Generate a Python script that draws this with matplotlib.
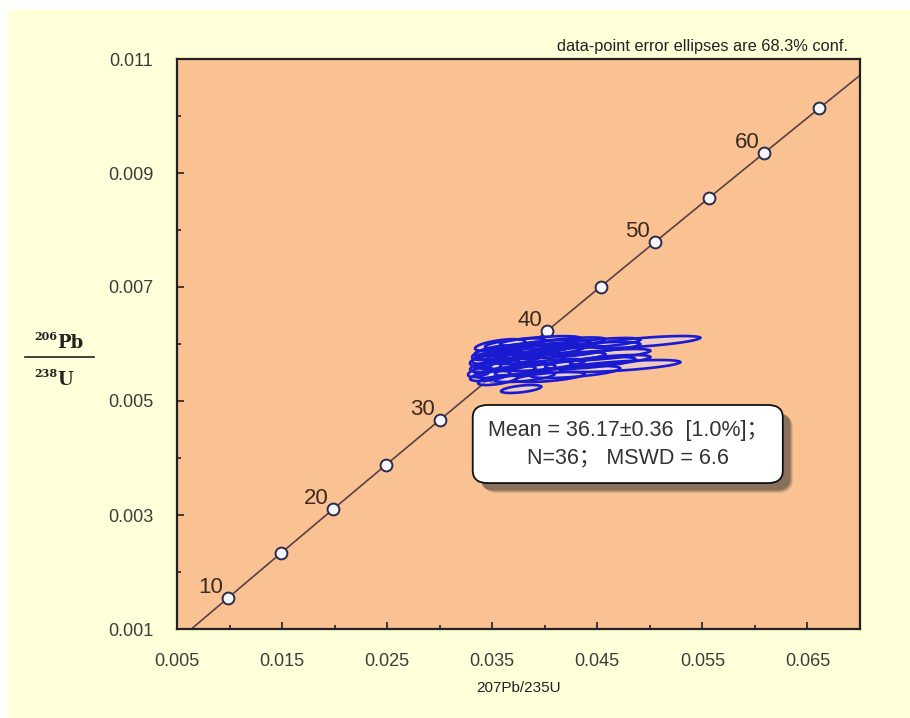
import numpy as np
import matplotlib
matplotlib.use("Agg")
import matplotlib.pyplot as plt
from matplotlib.patches import FancyBboxPatch, Rectangle

# U decay constants (1/yr)
LAMBDA_235 = 9.8485e-10
LAMBDA_238 = 1.55125e-10

# concordia age markers (Ma) and labelled ages
marker_ages = [10, 15, 20, 25, 30, 35, 40, 45, 50, 55, 60, 65]
label_ages = [10, 20, 30, 40, 50, 60]

# data-point error ellipses: centres, semi-axes and error correlation
ell_x = [0.04954, 0.04716, 0.04526, 0.04383, 0.04621, 0.04145, 0.03955, 0.04288,
         0.03860, 0.04098, 0.03764, 0.03669, 0.03574, 0.03527, 0.03622, 0.03479,
         0.03717, 0.03955, 0.03574, 0.03431, 0.03498, 0.03812, 0.04002, 0.04193,
         0.04431, 0.03774, 0.03555, 0.03669, 0.03760, 0.03622, 0.03450, 0.04045,
         0.04526, 0.03950, 0.03384, 0.03807]
ell_y = [0.006035, 0.005614, 0.005807, 0.005930, 0.005719, 0.006010, 0.005950, 0.005509,
         0.005860, 0.005754, 0.005684, 0.005895, 0.005754, 0.005614, 0.005509, 0.005439,
         0.006010, 0.006050, 0.005980, 0.005719, 0.005842, 0.005544, 0.005632, 0.005860,
         0.005667, 0.005211, 0.005368, 0.005632, 0.005754, 0.005789, 0.005579, 0.005421,
         0.006018, 0.005912, 0.005509, 0.005421]
ell_sx = [0.00523, 0.00571, 0.00476, 0.00523, 0.00381, 0.00428, 0.00476, 0.00428,
          0.00523, 0.00476, 0.00428, 0.00333, 0.00266, 0.00238, 0.00286, 0.00190,
          0.00286, 0.00381, 0.00238, 0.00143, 0.00190, 0.00286, 0.00381, 0.00428,
          0.00428, 0.00190, 0.00190, 0.00209, 0.00238, 0.00171, 0.00133, 0.00333,
          0.00381, 0.00333, 0.00114, 0.00286]
ell_sy = [0.000105, 0.000105, 0.000105, 0.000105, 0.000088, 0.000105, 0.000123, 0.000105,
          0.000123, 0.000105, 0.000123, 0.000105, 0.000105, 0.000105, 0.000105, 0.000088,
          0.000088, 0.000088, 0.000105, 0.000105, 0.000123, 0.000105, 0.000105, 0.000105,
          0.000105, 0.000070, 0.000088, 0.000105, 0.000105, 0.000105, 0.000088, 0.000088,
          0.000088, 0.000105, 0.000088, 0.000088]
ell_rho = [0.70, 0.65, 0.70, 0.65, 0.60, 0.70, 0.65, 0.60,
           0.70, 0.65, 0.65, 0.60, 0.60, 0.55, 0.65, 0.55,
           0.65, 0.60, 0.55, 0.55, 0.60, 0.65, 0.70, 0.65,
           0.65, 0.55, 0.60, 0.55, 0.60, 0.55, 0.55, 0.60,
           0.65, 0.65, 0.55, 0.60]

mean_text = "Mean = 36.17\u00b10.36  [1.0%]\uff1b\nN=36\uff1b MSWD = 6.6"

x_major = [0.005, 0.015, 0.025, 0.035, 0.045, 0.055, 0.065]
x_minor = [0.010, 0.020, 0.030, 0.040, 0.050, 0.060, 0.070]
y_major = [0.001, 0.003, 0.005, 0.007, 0.009, 0.011]
y_minor = [0.002, 0.004, 0.006, 0.008, 0.010]

W, H = 910, 718
fig = plt.figure(figsize=(W / 100, H / 100), dpi=100)
fig.patch.set_facecolor("white")
fig.patches.append(Rectangle((8 / W, 0), 1 - 8 / W, 1 - 10 / H,
                             transform=fig.transFigure, facecolor="#FFFFD9",
                             edgecolor="none", zorder=-10))

ax = fig.add_axes([177 / W, 1 - 629 / H, 683 / W, 570 / H])
ax.set_facecolor("#FAC192")
ax.set_xlim(0.005, 0.070)
ax.set_ylim(0.001, 0.011)

sans = ["Liberation Sans", "Noto Sans CJK SC", "DejaVu Sans"]

# concordia curve
t = np.linspace(0, 80e6, 800)
cx = np.exp(LAMBDA_235 * t) - 1
cy = np.exp(LAMBDA_238 * t) - 1
ax.plot(cx, cy, color="#5A3F45", lw=1.2, zorder=2)

# age markers on concordia
ma = np.array(marker_ages) * 1e6
mx = np.exp(LAMBDA_235 * ma) - 1
my = np.exp(LAMBDA_238 * ma) - 1
ax.plot(mx, my, "o", ms=8.5, mfc="#F6F6FF", mec="#2A2A4A", mew=1.4, zorder=3,
        linestyle="none")
for a in label_ages:
    lx = np.exp(LAMBDA_235 * a * 1e6) - 1
    ly = np.exp(LAMBDA_238 * a * 1e6) - 1
    ax.annotate(str(a), (lx, ly), xytext=(-3.5, 3.5), textcoords="offset points",
                ha="right", va="baseline", fontsize=16, color="#3A2A20",
                family=sans, zorder=7)

# error ellipses
th = np.linspace(0, 2 * np.pi, 120)
for x0, y0, sx, sy, r in zip(ell_x, ell_y, ell_sx, ell_sy, ell_rho):
    ex = x0 + sx * np.cos(th)
    ey = y0 + sy * (r * np.cos(th) + np.sqrt(1 - r * r) * np.sin(th))
    ax.fill(ex, ey, facecolor=(0.88, 0.86, 0.97, 0.45), edgecolor="none", zorder=4)
    ax.plot(ex, ey, color="#1A1AD0", lw=1.9, zorder=5)

# ticks
ax.set_xticks(x_major)
ax.set_xticks(x_minor, minor=True)
ax.set_yticks(y_major)
ax.set_yticks(y_minor, minor=True)
ax.set_xticklabels([f"{v:.3f}" for v in x_major])
ax.set_yticklabels([f"{v:.3f}" for v in y_major])
ax.tick_params(which="both", direction="in", top=False, right=False,
               color="#222222", width=1.2, labelcolor="#3C3C3C")
ax.tick_params(which="major", length=5, pad=17, labelsize=13)
ax.tick_params(which="minor", length=3)
for lab in ax.get_xticklabels() + ax.get_yticklabels():
    lab.set_family(sans)
for s in ax.spines.values():
    s.set_color("#222222")
    s.set_linewidth(1.6)

ax.set_xlabel("207Pb/235U", fontsize=11, family=sans, color="#222222", labelpad=8)

# statistics box with drop shadow
bx, by, bw, bh = 0.433, 0.256, 0.454, 0.137
for i, al in enumerate([0.18, 0.22, 0.3]):
    off = 0.017 - i * 0.002
    ax.add_patch(FancyBboxPatch((bx + off * 0.85, by - off), bw, bh,
                                boxstyle="round,pad=0,rounding_size=0.022",
                                transform=ax.transAxes, facecolor="#303030",
                                edgecolor="none", alpha=al, zorder=8))
ax.add_patch(FancyBboxPatch((bx, by), bw, bh,
                            boxstyle="round,pad=0,rounding_size=0.022",
                            transform=ax.transAxes, facecolor="white",
                            edgecolor="#111111", lw=1.3, zorder=9))
ax.text(bx + bw / 2, by + bh / 2, mean_text, transform=ax.transAxes,
        ha="center", va="center", fontsize=15.5, family=sans, color="#333333",
        linespacing=1.4, zorder=10)

# confidence note
fig.text(848 / W, 1 - 47 / H, "data-point error ellipses are 68.3% conf.",
         ha="right", va="center", fontsize=11.8, family=sans, color="#222222")

# y-axis ratio label
serif = ["DejaVu Serif"]
fig.text(57 / W, 1 - 348 / H, "Pb", ha="left", va="baseline", fontsize=13,
         family=serif, weight="bold", color="#222222")
fig.text(57 / W, 1 - 340 / H, "206", ha="right", va="baseline", fontsize=8,
         family=serif, weight="bold", color="#222222")
fig.text(57 / W, 1 - 385 / H, "U", ha="left", va="baseline", fontsize=13,
         family=serif, weight="bold", color="#222222")
fig.text(57 / W, 1 - 377 / H, "238", ha="right", va="baseline", fontsize=8,
         family=serif, weight="bold", color="#222222")
fig.lines.append(plt.Line2D([25 / W, 94 / W], [1 - 357 / H, 1 - 357 / H],
                            transform=fig.transFigure, color="#222222", lw=1.2))

fig.savefig("out.png", dpi=100)
